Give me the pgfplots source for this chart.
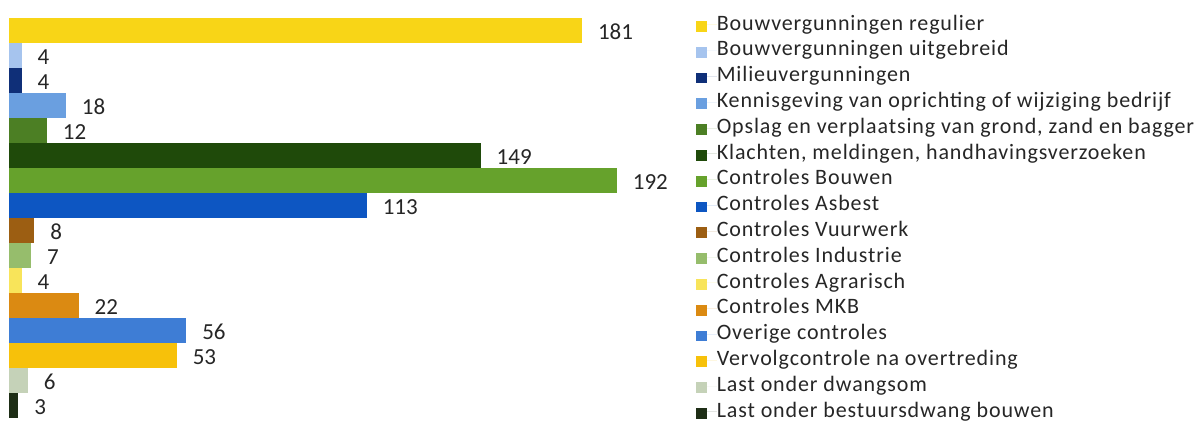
\documentclass[border=0pt]{standalone}
\usepackage{fontspec}
\setmainfont{Carlito}
\newfontfamily\legfont[LetterSpace=4]{Carlito}
\usepackage{pgfplots}
\pgfplotsset{compat=1.18}
\definecolor{c1}{HTML}{F8D517}
\definecolor{c2}{HTML}{A6C4EE}
\definecolor{c3}{HTML}{0F2F78}
\definecolor{c4}{HTML}{6A9FE0}
\definecolor{c5}{HTML}{4C7F24}
\definecolor{c6}{HTML}{1F4A0A}
\definecolor{c7}{HTML}{66A22C}
\definecolor{c8}{HTML}{0D56C2}
\definecolor{c9}{HTML}{9C5E12}
\definecolor{c10}{HTML}{96BD6C}
\definecolor{c11}{HTML}{F8E45A}
\definecolor{c12}{HTML}{DB8A12}
\definecolor{c13}{HTML}{3E7DD5}
\definecolor{c14}{HTML}{F7C10A}
\definecolor{c15}{HTML}{C5D2B8}
\definecolor{c16}{HTML}{1E2E16}
\definecolor{txt}{HTML}{262626}
\pgfplotsset{sq/.style={legend image code/.code={\fill[##1] (0bp,-3.4bp) rectangle (5.4bp,2.0bp);\path (0bp,0bp) -- (10.2bp,0bp);}}}
\begin{document}
\begin{tikzpicture}
\useasboundingbox (0,0) rectangle (600.5bp,215bp);
\begin{axis}[
  at={(0,0)}, anchor=south west,
  scale only axis, width=600.5bp, height=215bp,
  xbar, bar width=12.5bp, bar shift=0pt,
  xmin=-2.843, xmax=376.5,
  ymin=-0.22, ymax=16.98, y dir=reverse,
  hide axis, clip=false,
  every axis plot/.append style={draw=none, forget plot},
  nodes near coords, point meta=x,
  /pgf/number format/assume math mode=true,
  nodes near coords style={anchor=west, inner sep=0pt, xshift=7.8bp, yshift=-0.75bp,
     text=txt, font=\fontsize{11.5bp}{12bp}\selectfont},
  legend cell align=left,
  legend style={at={(0.5795,0.9730)}, anchor=north west, draw=none, fill=none,
     inner sep=0pt, text=txt, font=\legfont\fontsize{11bp}{12bp}\selectfont,
     nodes={inner sep=0pt, text height=9bp, text depth=3.9bp}},
]
\addplot[fill=c1] coordinates {(181,1)};
\addplot[fill=c2] coordinates {(4,2)};
\addplot[fill=c3] coordinates {(4,3)};
\addplot[fill=c4] coordinates {(18,4)};
\addplot[fill=c5] coordinates {(12,5)};
\addplot[fill=c6] coordinates {(149,6)};
\addplot[fill=c7] coordinates {(192,7)};
\addplot[fill=c8] coordinates {(113,8)};
\addplot[fill=c9] coordinates {(8,9)};
\addplot[fill=c10] coordinates {(7,10)};
\addplot[fill=c11] coordinates {(4,11)};
\addplot[fill=c12] coordinates {(22,12)};
\addplot[fill=c13] coordinates {(56,13)};
\addplot[fill=c14] coordinates {(53,14)};
\addplot[fill=c15] coordinates {(6,15)};
\addplot[fill=c16] coordinates {(3,16)};
\addlegendimage{sq, fill=c1}
\addlegendimage{sq, fill=c2}
\addlegendimage{sq, fill=c3}
\addlegendimage{sq, fill=c4}
\addlegendimage{sq, fill=c5}
\addlegendimage{sq, fill=c6}
\addlegendimage{sq, fill=c7}
\addlegendimage{sq, fill=c8}
\addlegendimage{sq, fill=c9}
\addlegendimage{sq, fill=c10}
\addlegendimage{sq, fill=c11}
\addlegendimage{sq, fill=c12}
\addlegendimage{sq, fill=c13}
\addlegendimage{sq, fill=c14}
\addlegendimage{sq, fill=c15}
\addlegendimage{sq, fill=c16}
\legend{Bouwvergunningen regulier, Bouwvergunningen uitgebreid, Milieuvergunningen,
  Kennisgeving van oprichting of wijziging bedrijf,
  {Opslag en verplaatsing van grond, zand en bagger},
  {Klachten, meldingen, handhavingsverzoeken},
  Controles Bouwen, Controles Asbest, Controles Vuurwerk, Controles Industrie,
  Controles Agrarisch, Controles MKB, Overige controles,
  Vervolgcontrole na overtreding, Last onder dwangsom, Last onder bestuursdwang bouwen}
\end{axis}
\end{tikzpicture}
\end{document}
